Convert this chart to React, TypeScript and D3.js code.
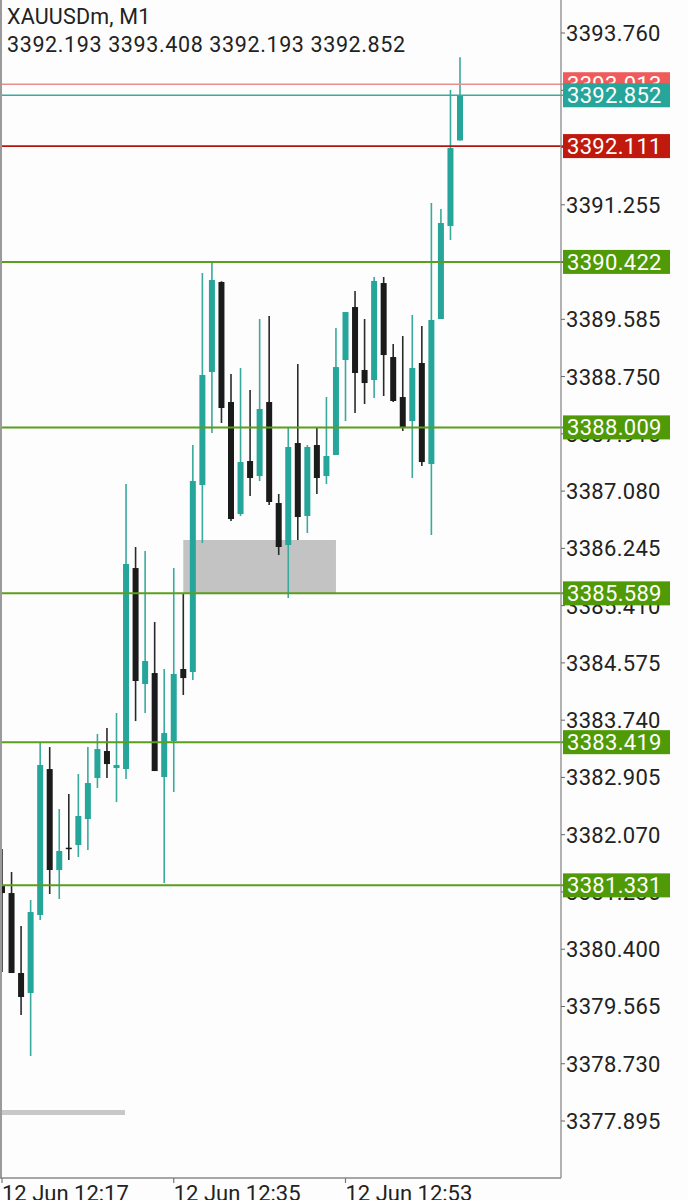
import React from "react";
import * as d3 from "d3";

const symbolTitle = "XAUUSDm, M1";
const ohlcText = "3392.193 3393.408 3392.193 3392.852";

// one-minute candles starting 12 Jun 12:17
const startMinute = { hour: 12, minute: 17 };
const opens = [3381.321, 3381.219, 3380.053, 3379.761, 3380.899, 3383.027, 3381.555, 3381.880, 3381.919, 3382.298, 3382.896, 3383.290, 3383.042, 3383.027, 3385.958, 3384.267, 3384.427, 3382.911, 3383.436, 3384.486, 3384.442, 3387.169, 3388.817, 3390.129, 3388.379, 3386.746, 3387.519, 3387.300, 3388.379, 3386.906, 3386.294, 3387.781, 3386.717, 3387.752, 3387.300, 3387.606, 3388.992, 3389.764, 3388.846, 3388.700, 3390.114, 3389.035, 3388.452, 3388.102, 3388.948, 3387.475, 3389.589, 3390.946, 3392.193];
const highs = [3381.861, 3381.526, 3380.738, 3381.117, 3383.407, 3383.348, 3382.444, 3382.663, 3382.955, 3383.348, 3383.538, 3383.625, 3383.844, 3387.183, 3386.265, 3386.206, 3385.171, 3384.486, 3385.958, 3385.579, 3387.752, 3390.260, 3390.421, 3390.140, 3388.787, 3388.875, 3388.554, 3389.589, 3389.633, 3387.038, 3388.000, 3388.933, 3387.752, 3388.000, 3388.452, 3389.458, 3389.691, 3389.998, 3389.589, 3390.202, 3390.202, 3389.225, 3389.341, 3389.648, 3389.487, 3391.281, 3391.193, 3392.929, 3393.408];
const lows = [3380.067, 3380.053, 3379.440, 3378.842, 3380.826, 3381.205, 3381.132, 3381.701, 3381.744, 3381.846, 3382.750, 3382.896, 3382.546, 3382.882, 3383.727, 3383.844, 3382.998, 3381.365, 3382.692, 3384.107, 3384.325, 3386.323, 3387.927, 3388.073, 3386.644, 3386.717, 3387.008, 3387.227, 3386.877, 3386.148, 3385.521, 3386.367, 3386.469, 3387.038, 3387.183, 3387.606, 3388.102, 3388.219, 3388.350, 3388.437, 3388.467, 3388.379, 3387.956, 3387.271, 3387.446, 3386.440, 3389.589, 3390.741, 3392.193];
const closes = [3381.219, 3380.053, 3379.703, 3380.942, 3383.086, 3381.555, 3381.832, 3381.870, 3382.342, 3382.823, 3383.319, 3383.100, 3383.086, 3386.017, 3384.311, 3384.602, 3382.998, 3383.552, 3384.413, 3384.354, 3387.227, 3388.773, 3390.158, 3388.292, 3386.673, 3387.504, 3387.271, 3388.277, 3386.921, 3386.265, 3387.723, 3386.702, 3387.723, 3387.271, 3387.592, 3388.889, 3389.691, 3388.802, 3388.656, 3390.144, 3389.064, 3388.394, 3388.000, 3388.875, 3387.504, 3389.575, 3390.989, 3392.083, 3392.852];

const priceTicks = [3393.760, 3392.925, 3392.090, 3391.255, 3390.420, 3389.585, 3388.750, 3387.915, 3387.080, 3386.245, 3385.410, 3384.575, 3383.740, 3382.905, 3382.070, 3381.235, 3380.400, 3379.565, 3378.730, 3377.895];
const timeTickLabels = ["12:17", "12:35", "12:53"];

const greenLevels = [3390.422, 3388.009, 3385.589, 3383.419, 3381.331];
const askPrice = 3393.013;
const bidPrice = 3392.852;
const redLevel = 3392.111;

// supply/demand zone (minutes 12:36 to 12:52)
const zoneTimes = ["12:36", "12:52"];
const zonePrices = [3386.367, 3385.589];

const W = 688;
const H = 1200;
const AXIS_X = 561;
const AXIS_Y = 1178;
const FONT = "Roboto, 'Noto Sans', sans-serif";

const mkDate = (hm: string) => {
  const [h, m] = hm.split(":").map(Number);
  return new Date(2025, 5, 12, h, m);
};

export default function App() {
  const dates = opens.map((_, i) => new Date(2025, 5, 12, startMinute.hour, startMinute.minute + i));
  const x = d3.scaleTime().domain([dates[0], dates[dates.length - 1]]).range([2, 460]);
  const y = d3.scaleLinear().domain([3377.895, 3393.760]).range([1121, 33]);
  const fmt = d3.timeFormat("%d %b %H:%M");
  const bodyW = 6;

  const TEAL = "#26a69a";
  const BLACK = "#1b1b1b";
  const GREEN_LINE = "#5b9e1c";
  const GREEN_BOX = "#4f9a06";

  const label = (price: number, bg: string, key: string) => (
    <g key={key}>
      <rect x={563} y={y(price) - 12} width={107} height={24} fill={bg} />
      <text x={567} y={y(price) + 8} fill="#ffffff" fontSize={22} fontFamily={FONT} letterSpacing={0.3}>
        {price.toFixed(3)}
      </text>
    </g>
  );

  return (
    <div style={{ position: "fixed", left: 0, top: 0, width: W, height: H, background: "#ffffff" }}>
      <svg width={W} height={H} style={{ display: "block" }}>
        <rect x={0} y={0} width={W} height={H} fill="#fdfdfd" />
        <defs>
          <clipPath id="plot">
            <rect x={1} y={0} width={AXIS_X - 1} height={AXIS_Y} />
          </clipPath>
        </defs>

        <g clipPath="url(#plot)">
          {/* zone */}
          <rect
            x={x(mkDate(zoneTimes[0]))}
            y={y(zonePrices[0])}
            width={x(mkDate(zoneTimes[1])) - x(mkDate(zoneTimes[0]))}
            height={y(zonePrices[1]) - y(zonePrices[0])}
            fill="#c3c3c3"
          />
          {/* bottom-left gray bar */}
          <rect x={0} y={1110} width={125} height={5} fill="#c8c8c8" />

          {/* candles */}
          {dates.map((d, i) => {
            const up = closes[i] >= opens[i];
            const cx = x(d);
            const top = y(Math.max(opens[i], closes[i]));
            const bot = y(Math.min(opens[i], closes[i]));
            const col = up ? TEAL : BLACK;
            return (
              <g key={i}>
                <line x1={cx} x2={cx} y1={y(highs[i])} y2={y(lows[i])} stroke={up ? "#3aa99e" : "#2a2a2a"} strokeWidth={1.6} />
                <rect x={cx - bodyW / 2} y={top} width={bodyW} height={Math.max(1.5, bot - top)} fill={col} />
              </g>
            );
          })}
        </g>

        {/* horizontal level lines */}
        {greenLevels.map((p, i) => (
          <line key={"g" + i} x1={0} x2={565} y1={y(p)} y2={y(p)} stroke={GREEN_LINE} strokeWidth={2} />
        ))}
        <line x1={0} x2={565} y1={y(askPrice)} y2={y(askPrice)} stroke="#e89090" strokeWidth={1.3} />
        <line x1={0} x2={565} y1={y(bidPrice)} y2={y(bidPrice)} stroke="#3aa99e" strokeWidth={1.3} />
        <line x1={0} x2={565} y1={y(redLevel)} y2={y(redLevel)} stroke="#b3170c" strokeWidth={1.8} />

        {/* axes frame */}
        <line x1={1} x2={1} y1={0} y2={AXIS_Y} stroke="#9a9a9a" strokeWidth={2} />
        <line x1={AXIS_X} x2={AXIS_X} y1={0} y2={AXIS_Y} stroke="#8a8a8a" strokeWidth={1.3} />
        <line x1={0} x2={AXIS_X} y1={AXIS_Y} y2={AXIS_Y} stroke="#8a8a8a" strokeWidth={1.3} />

        {/* price ticks */}
        {priceTicks.map((p, i) => (
          <g key={"t" + i}>
            <line x1={AXIS_X} x2={AXIS_X + 4} y1={y(p)} y2={y(p)} stroke="#666" strokeWidth={1} />
            <text x={566} y={y(p) + 8} fill="#222" fontSize={22} fontFamily={FONT} letterSpacing={0.3}>
              {p.toFixed(3)}
            </text>
          </g>
        ))}

        {/* time ticks */}
        {timeTickLabels.map((t, i) => {
          const tx = x(mkDate(t));
          return (
            <g key={"x" + i}>
              <line x1={tx} x2={tx} y1={AXIS_Y} y2={AXIS_Y + 5} stroke="#777" strokeWidth={1.2} />
              <text x={tx} y={1201} fill="#222" fontSize={22} fontFamily={FONT}>
                {fmt(mkDate(t))}
              </text>
            </g>
          );
        })}

        {/* price labels */}
        {greenLevels.map((p, i) => label(p, GREEN_BOX, "gl" + i))}
        {label(askPrice, "#ef5b5b", "ask")}
        {label(bidPrice, "#26a69a", "bid")}
        {label(redLevel, "#c0190d", "red")}

        {/* header */}
        <text x={7} y={23.5} fill="#222" fontSize={21.5} fontFamily={FONT} letterSpacing={0.2}>{symbolTitle}</text>
        <text x={7} y={52} fill="#222" fontSize={21.5} fontFamily={FONT} letterSpacing={0.62}>{ohlcText}</text>
      </svg>
    </div>
  );
}
